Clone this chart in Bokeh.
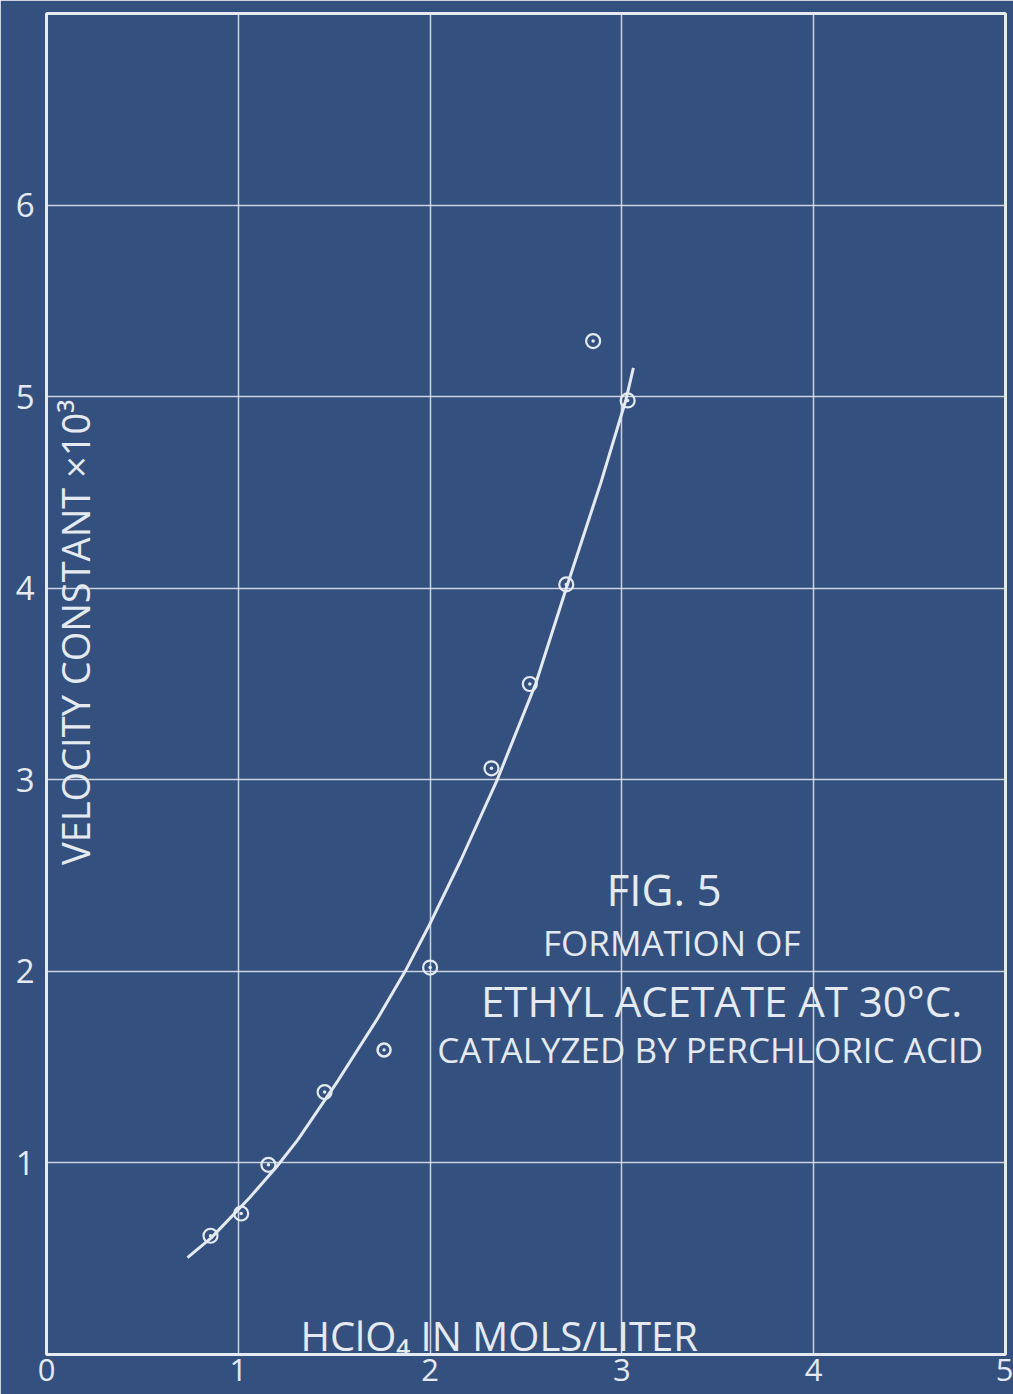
import math
from bokeh.plotting import figure
from bokeh.models import Range1d, FixedTicker, Label, ColumnDataSource
from bokeh.embed import file_html
from bokeh.resources import INLINE

# ---- data ----
hclo4_mols = [0.855, 1.015, 1.157, 1.45, 2.0, 2.32, 2.52, 2.71, 2.85, 3.03]
velocity_const = [0.62, 0.736, 0.99, 1.37, 2.02, 3.06, 3.50, 4.02, 5.29, 4.98]

curve_x = [0.735, 0.86, 1.06, 1.20, 1.31, 1.52, 1.73, 1.87, 1.99, 2.16, 2.35, 2.55, 2.71, 2.89, 3.02, 3.06]
curve_y = [0.506, 0.61, 0.82, 0.98, 1.12, 1.43, 1.76, 2.0, 2.23, 2.58, 3.0, 3.5, 4.0, 4.55, 4.98, 5.15]

x_ticks = [0, 1, 2, 3, 4, 5]
y_ticks = [1, 2, 3, 4, 5, 6]
x_grid = [1, 2, 3, 4]
y_grid = [1, 2, 3, 4, 5, 6]

title_lines = ["FIG. 5", "FORMATION OF", "ETHYL ACETATE AT 30°C.", "CATALYZED BY PERCHLORIC ACID"]
x_label = "HClO₄ IN MOLS/LITER"
y_label = "VELOCITY CONSTANT ×10³"

BG = "#34507f"
INK = "#e4eaf0"
FONT = "Open Sans"

p = figure(width=1013, height=1394, x_range=Range1d(0, 5), y_range=Range1d(0, 7),
           output_backend="svg", toolbar_location=None,
           min_border_left=46, min_border_right=8, min_border_top=13, min_border_bottom=40)
p.background_fill_color = BG
p.border_fill_color = BG
p.outline_line_color = INK
p.outline_line_width = 3

for ax in (p.xaxis[0], p.yaxis[0]):
    ax.axis_line_color = None
    ax.major_tick_line_color = None
    ax.minor_tick_line_color = None
    ax.major_tick_out = 0
    ax.major_tick_in = 0
    ax.major_label_text_color = INK
    ax.major_label_text_font = FONT
p.xaxis[0].major_label_text_font_size = "31px"
p.yaxis[0].major_label_text_font_size = "33px"
p.xaxis[0].ticker = FixedTicker(ticks=x_ticks)
p.yaxis[0].ticker = FixedTicker(ticks=y_ticks)
p.xaxis[0].major_label_standoff = 4
p.yaxis[0].major_label_standoff = 12

p.xgrid[0].ticker = FixedTicker(ticks=x_grid)
p.ygrid[0].ticker = FixedTicker(ticks=y_grid)
for g in (p.xgrid[0], p.ygrid[0]):
    g.grid_line_color = INK
    g.grid_line_alpha = 0.85
    g.grid_line_width = 1.5

# fitted curve
p.line(curve_x, curve_y, line_color=INK, line_width=3, line_join="round")

# data points
src = ColumnDataSource(dict(x=hclo4_mols, y=velocity_const))
p.scatter("x", "y", source=src, marker="circle_dot", size=14, fill_alpha=0,
          line_color=INK, line_width=2.2)

# legend symbol
p.scatter([1.76], [1.59], marker="circle_dot", size=13, fill_alpha=0,
          line_color=INK, line_width=2.5)

# title block
title_pos = [(3.22, 2.43, "44px"), (3.26, 2.15, "35px"), (3.52, 1.85, "42px"), (3.46, 1.59, "35px")]
for (tx, ty, fs), txt in zip(title_pos, title_lines):
    p.add_layout(Label(x=tx, y=ty, text=txt, text_align="center", text_baseline="middle",
                       text_color=INK, text_font=FONT, text_font_size=fs))

# axis labels drawn inside the frame
p.add_layout(Label(x=2.36, y=0.10, text=x_label, text_align="center", text_baseline="middle",
                   text_color=INK, text_font=FONT, text_font_size="40px"))
p.add_layout(Label(x=0.15, y=3.77, text=y_label, angle=math.pi / 2, text_align="center",
                   text_baseline="middle", text_color=INK, text_font=FONT, text_font_size="38px"))

open("out.html", "w").write(file_html(p, INLINE))
